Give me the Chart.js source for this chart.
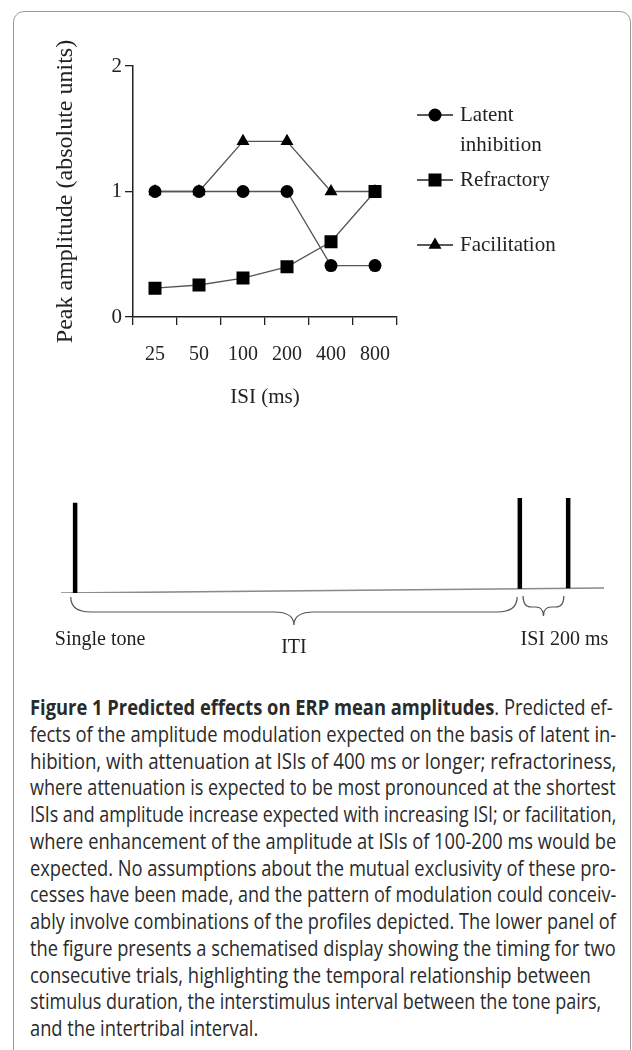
<!DOCTYPE html>
<html>
<head>
<meta charset="utf-8">
<script src="https://cdn.jsdelivr.net/npm/chart.js@4"></script>
<style>
  html, body { margin: 0; padding: 0; background: #fff; }
  body { width: 632px; height: 1050px; position: relative; overflow: hidden; }
  #frame { position: absolute; left: 13px; top: 11px; width: 618px; height: 1100px; border: 1.5px solid #9a9a9a; border-radius: 11px; box-sizing: border-box; }
  #c1 { position: absolute; left: 0; top: 0; }
  #c2 { position: absolute; left: 0; top: 440px; }
  #caption { position: absolute; left: 30px; top: 694px; font-family: "Open Sans", sans-serif; font-size: 21px; color: #2a2a2a; }
  .ln { height: 26.75px; line-height: 26.75px; }
  .ln span { display: inline-block; white-space: nowrap; transform-origin: 0 0; }
  .ln b { font-weight: 700; }
</style>
</head>
<body>
<div id="frame"></div>
<canvas id="c1" width="632" height="420"></canvas>
<canvas id="c2" width="632" height="230"></canvas>
<div id="caption"></div>

<script>
// upper panel: predicted peak amplitude per ISI
const isiLabels = ["25", "50", "100", "200", "400", "800"];
const latentInhibition = [1, 1, 1, 1, 0.41, 0.41];
const refractory = [0.23, 0.255, 0.31, 0.4, 0.6, 1.0];
const facilitation = [1, 1, 1.4, 1.4, 1, 1];
const yTicks = [0, 1, 2];
const seriesNames = [["Latent", "inhibition"], ["Refractory"], ["Facilitation"]];

// lower panel: timing schematic (x in arbitrary time units 0-100)
const toneX = [2.6, 84.5, 93.4];
const toneBase = [0.0, 0.045, 0.05];
const toneTop = [0.95, 1.0, 1.0];
const baselineX = [0, 100];
const baselineY = [0, 0.053];
const braceFrom = [1.8, 85.1];
const braceTo = [84.0, 92.6];
const panelTexts = ["Single tone", "ITI", "ISI 200 ms"];
const panelTextX = [7.2, 42.9, 92.7];

const captionLines = [
  "<b>Figure 1 Predicted effects on ERP mean amplitudes</b>. Predicted ef-",
  "fects of the amplitude modulation expected on the basis of latent in-",
  "hibition, with attenuation at ISIs of 400 ms or longer; refractoriness,",
  "where attenuation is expected to be most pronounced at the shortest",
  "ISIs and amplitude increase expected with increasing ISI; or facilitation,",
  "where enhancement of the amplitude at ISIs of 100-200 ms would be",
  "expected. No assumptions about the mutual exclusivity of these pro-",
  "cesses have been made, and the pattern of modulation could conceiv-",
  "ably involve combinations of the profiles depicted. The lower panel of",
  "the figure presents a schematised display showing the timing for two",
  "consecutive trials, highlighting the temporal relationship between",
  "stimulus duration, the interstimulus interval between the tone pairs,",
  "and the intertribal interval."
];
const captionRight = [613, 616, 616, 616, 616, 616, 616, 616, 616, 616, 591, 601, 0];

const serif = "'Liberation Serif', 'Times New Roman', serif";
const ink = "#222";

const sideLegend = {
  id: "sideLegend",
  afterDraw(chart, args, opts) {
    const ctx = chart.ctx;
    chart.data.datasets.forEach((ds, i) => {
      const y = opts.top + i * opts.rowGap;
      ctx.save();
      ctx.strokeStyle = ink;
      ctx.lineWidth = opts.lineWidth;
      ctx.beginPath();
      ctx.moveTo(opts.x, y);
      ctx.lineTo(opts.x + opts.lineLen, y);
      ctx.stroke();
      ctx.fillStyle = "#000";
      Chart.helpers.drawPoint(ctx, { pointStyle: ds.pointStyle, radius: ds.pointRadius, borderWidth: 0, rotation: 0 }, opts.x + opts.lineLen / 2, y);
      ctx.fillStyle = ink;
      ctx.font = "21px " + serif;
      ctx.textBaseline = "middle";
      ds.label.forEach((t, k) => ctx.fillText(t, opts.textX, y + k * opts.textGap));
      ctx.restore();
    });
  }
};

new Chart(document.getElementById("c1"), {
  type: "line",
  data: {
    labels: isiLabels,
    datasets: [
      { label: seriesNames[0], data: latentInhibition, pointStyle: "circle", pointRadius: 6.5 },
      { label: seriesNames[1], data: refractory, pointStyle: "rect", pointRadius: 9.2 },
      { label: seriesNames[2], data: facilitation, pointStyle: "triangle", pointRadius: 7.5 }
    ].map(d => Object.assign(d, {
      borderColor: "#555",
      borderWidth: 1.3,
      pointBackgroundColor: "#000",
      pointBorderWidth: 0,
      tension: 0,
      fill: false
    }))
  },
  options: {
    responsive: false,
    animation: false,
    layout: { padding: { left: 50, right: 235, top: 66, bottom: 3 } },
    plugins: {
      legend: { display: false },
      tooltip: { enabled: false },
      sideLegend: { x: 417, lineLen: 36, top: 115, rowGap: 65, textX: 460, textGap: 30, lineWidth: 1.6 }
    },
    scales: {
      x: {
        offset: true,
        grid: { offset: true, drawOnChartArea: false, drawTicks: true, tickLength: 8, color: ink, lineWidth: 1.3 },
        border: { color: ink, width: 1.5 },
        ticks: { color: ink, font: { family: serif, size: 20 }, padding: 18 },
        title: { display: true, text: "ISI (ms)", color: ink, font: { family: serif, size: 21 }, padding: { top: 0, bottom: 7 } },
        afterFit: s => { s.height = 100; }
      },
      y: {
        min: 0,
        max: 2,
        afterBuildTicks: s => { s.ticks = yTicks.map(v => ({ value: v })); },
        grid: { drawOnChartArea: false, drawTicks: true, tickLength: 8, color: ink, lineWidth: 1.3 },
        border: { color: ink, width: 1.5 },
        ticks: { color: ink, font: { family: serif, size: 21 }, padding: 3 },
        title: { display: true, text: "Peak amplitude (absolute units)", color: ink, font: { family: serif, size: 24 }, padding: { top: 1, bottom: 0 } },
        afterFit: s => { s.width = 83; }
      }
    }
  },
  plugins: [sideLegend]
});

// spikes as one broken line
const spikeData = [];
toneX.forEach((x, i) => {
  spikeData.push({ x: x, y: toneBase[i] }, { x: x, y: toneTop[i] }, { x: x, y: null });
});

function brace(ctx, x1, x2, yTop, yMid, yTip, r) {
  const xc = (x1 + x2) / 2;
  ctx.beginPath();
  ctx.moveTo(x1, yTop);
  ctx.quadraticCurveTo(x1, yMid, x1 + r, yMid);
  ctx.lineTo(xc - r, yMid);
  ctx.quadraticCurveTo(xc, yMid, xc, yTip);
  ctx.quadraticCurveTo(xc, yMid, xc + r, yMid);
  ctx.lineTo(x2 - r, yMid);
  ctx.quadraticCurveTo(x2, yMid, x2, yTop);
  ctx.stroke();
}

const braces = {
  id: "braces",
  afterDatasetsDraw(chart) {
    const ctx = chart.ctx;
    const xs = chart.scales.x;
    const y0 = chart.scales.y.getPixelForValue(0);
    ctx.save();
    ctx.strokeStyle = "#555";
    ctx.lineWidth = 1.2;
    brace(ctx, xs.getPixelForValue(braceFrom[0]), xs.getPixelForValue(braceTo[0]), y0 + 4, y0 + 19, y0 + 32, 20);
    brace(ctx, xs.getPixelForValue(braceFrom[1]), xs.getPixelForValue(braceTo[1]), y0 + 3, y0 + 14, y0 + 23, 8);
    ctx.fillStyle = ink;
    ctx.font = "20px " + serif;
    ctx.textAlign = "center";
    ctx.textBaseline = "middle";
    const dy = [47, 55, 47];
    panelTexts.forEach((t, i) => ctx.fillText(t, xs.getPixelForValue(panelTextX[i]), y0 + dy[i]));
    ctx.restore();
  }
};

new Chart(document.getElementById("c2"), {
  type: "line",
  data: {
    datasets: [
      { data: spikeData, borderColor: "#000", borderWidth: 4.5, borderCapStyle: "butt", pointRadius: 0, spanGaps: false },
      { data: baselineX.map((x, i) => ({ x: x, y: baselineY[i] })), borderColor: "#8a8a8a", borderWidth: 1.6, pointRadius: 0 }
    ]
  },
  options: {
    responsive: false,
    animation: false,
    layout: { padding: { left: 61, right: 28, top: 58, bottom: 77 } },
    plugins: { legend: { display: false }, tooltip: { enabled: false } },
    scales: {
      x: { type: "linear", min: 0, max: 100, display: false },
      y: { min: 0, max: 1, display: false }
    }
  },
  plugins: [braces]
});

// caption: each line squeezed horizontally to its measured width in the original
const cap = document.getElementById("caption");
const spans = captionLines.map(t => {
  const d = document.createElement("div");
  d.className = "ln";
  const s = document.createElement("span");
  s.innerHTML = t;
  d.appendChild(s);
  cap.appendChild(d);
  return s;
});
const scales = spans.map((s, i) => captionRight[i] ? (captionRight[i] - 30) / s.offsetWidth : 0);
const typical = scales.filter(v => v).sort((a, b) => a - b)[5];
spans.forEach((s, i) => {
  s.style.transform = "scaleX(" + (scales[i] || typical) + ")";
});
</script>
</body>
</html>
